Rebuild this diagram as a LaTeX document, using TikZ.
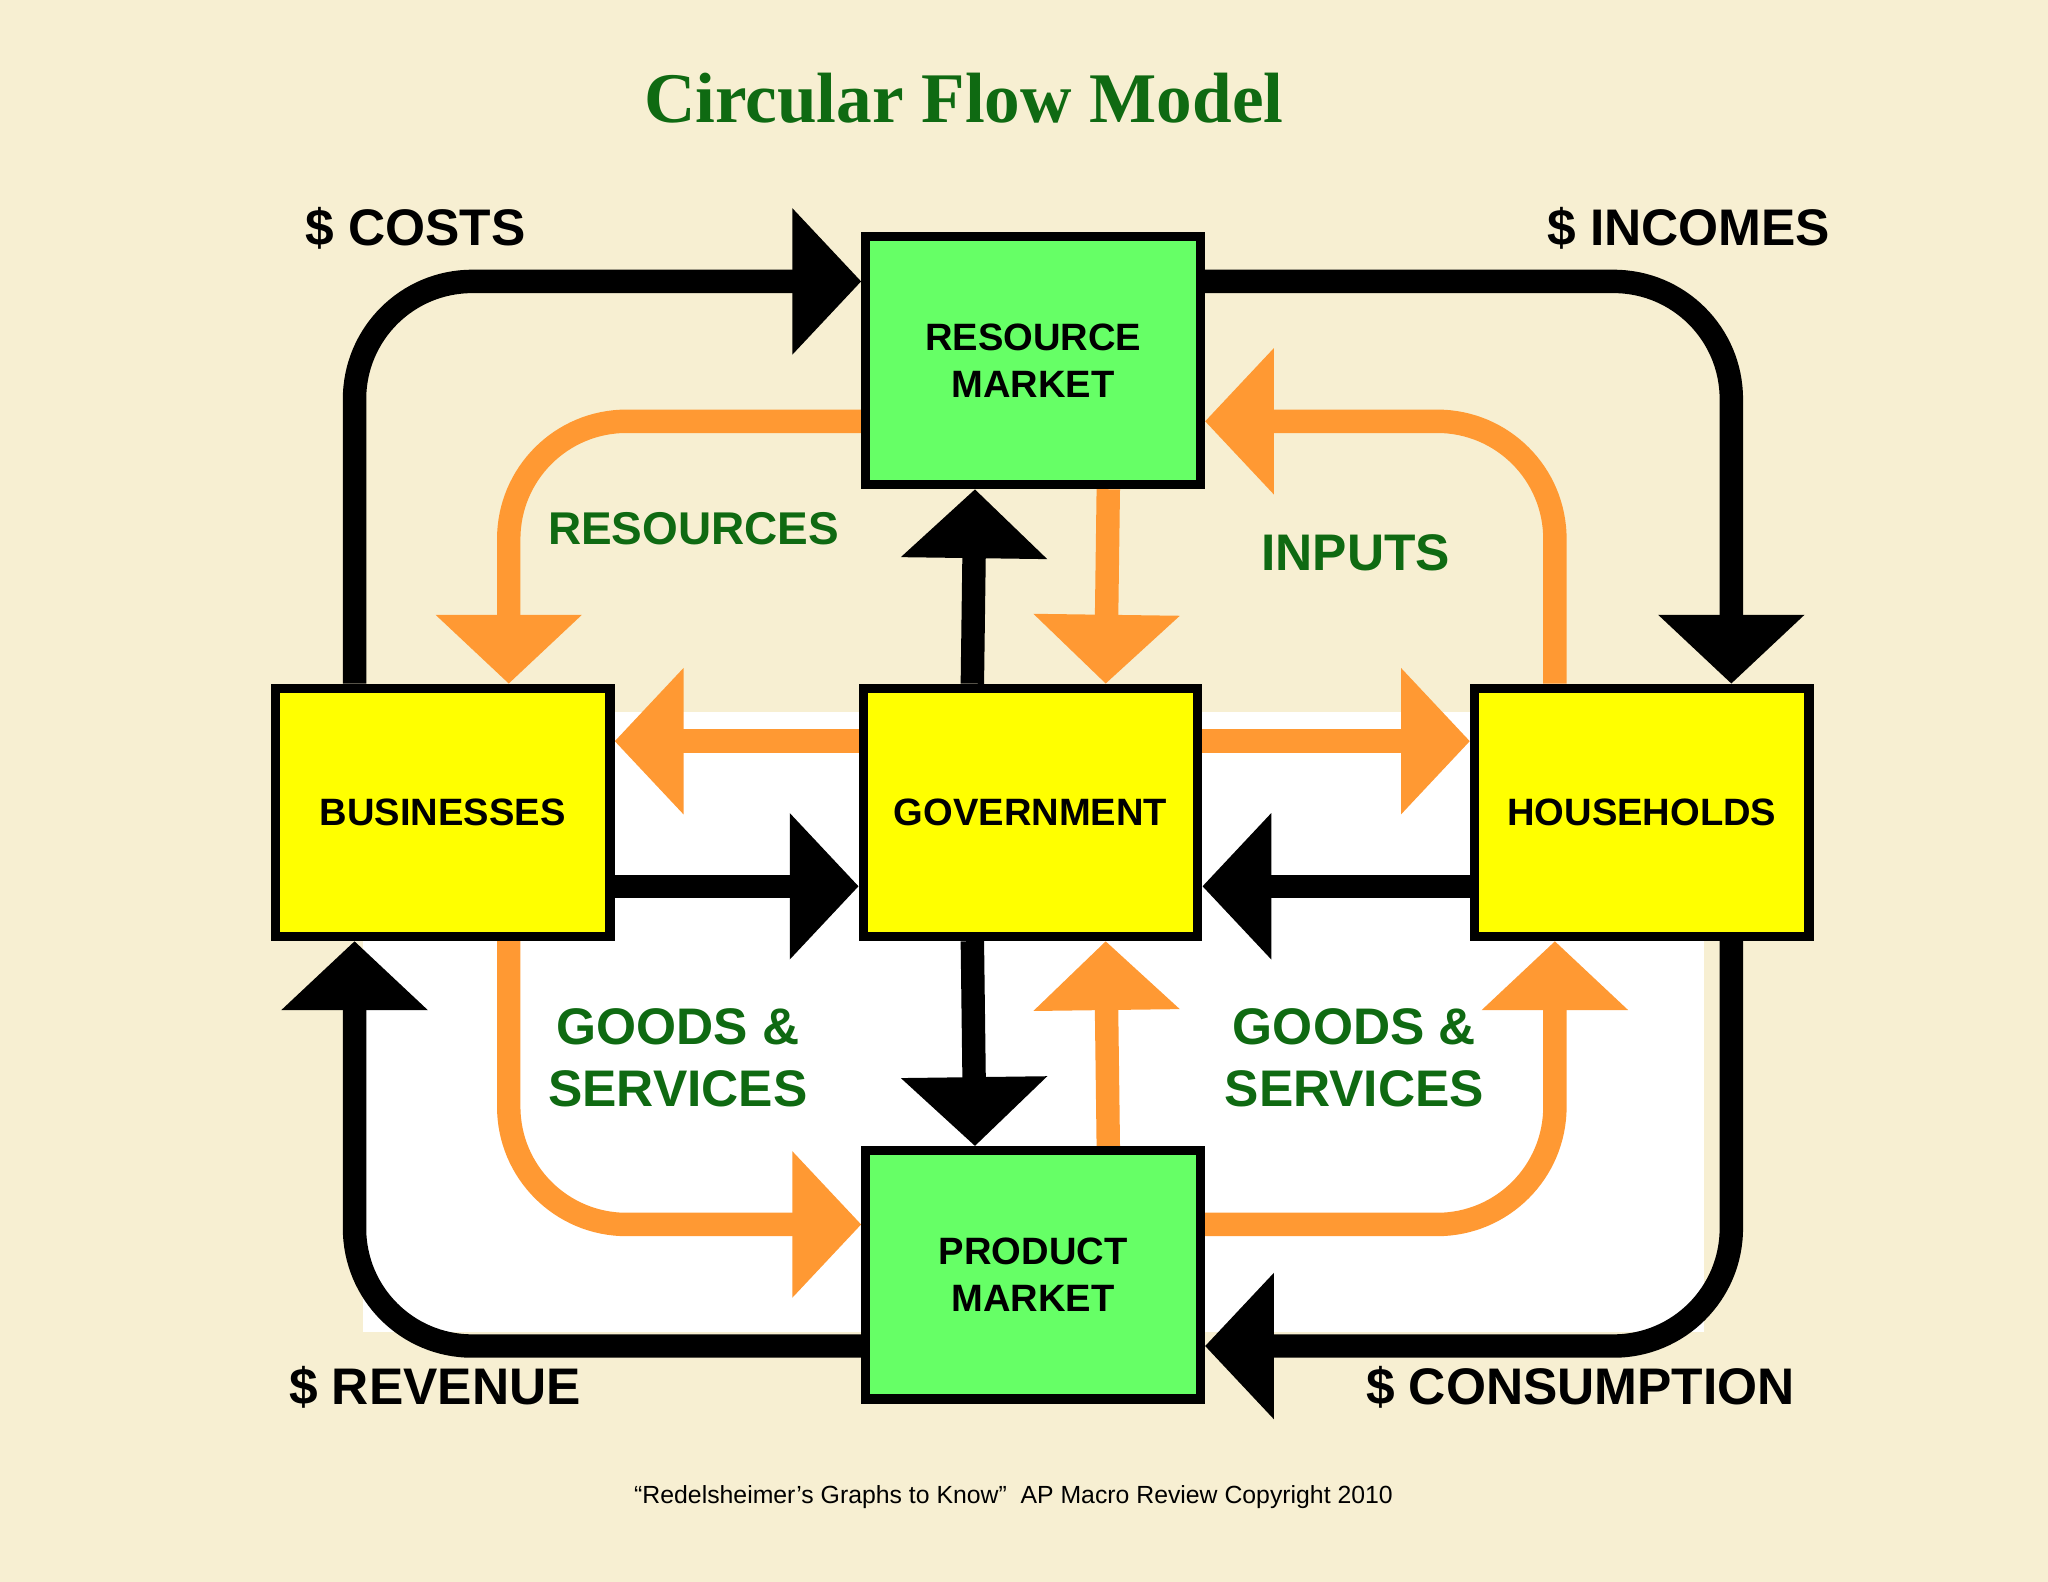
\documentclass[tikz,border=0pt]{standalone}
\usepackage{fontspec}
\setmainfont{Liberation Sans}
\newfontfamily\titlefont{Liberation Serif}
\usetikzlibrary{arrows.meta}
\pgfdeclarelayer{background}
\pgfdeclarelayer{back2}
\pgfsetlayers{back2,background,main}
\definecolor{bg}{HTML}{F7EFD2}
\definecolor{boxg}{HTML}{66FF66}
\definecolor{boxy}{HTML}{FFFF00}
\definecolor{org}{HTML}{FF9933}
\definecolor{dg}{HTML}{0F6A12}
\tikzset{
 box/.style={draw=black,line width=2pt,minimum width=2.56cm,minimum height=1.9cm,inner sep=0pt,align=center,font=\fontsize{8.3}{10.3}\selectfont\bfseries},
 bk/.style={line width=5.1pt,draw=black,rounded corners=0.9cm,-{Triangle[length=15pt,width=31pt]}},
 og/.style={line width=5.1pt,draw=org,rounded corners=0.9cm,-{Triangle[length=15pt,width=31pt]}},
 lab/.style={font=\fontsize{11.2}{13}\selectfont\bfseries},
 glab/.style={font=\fontsize{11.2}{13.6}\selectfont\bfseries,text=dg,align=center}
}
\begin{document}
\begin{tikzpicture}[x=0.01cm,y=-0.01cm]
\useasboundingbox (0,0) rectangle (1568,1211);
\node[font=\titlefont\fontsize{15.5}{18}\selectfont\bfseries,text=dg] (title) at (738,75) {Circular Flow Model};
\node[box,fill=boxg] (rm) at (791,276) {RESOURCE\\MARKET};
\node[box,fill=boxy] (bus) at (339,622) {BUSINESSES};
\node[box,fill=boxy] (gov) at (789,622) {GOVERNMENT};
\node[box,fill=boxy] (hh) at (1257,622) {HOUSEHOLDS};
\node[box,fill=boxg] (pm) at (791,976) {PRODUCT\\MARKET};
\begin{pgfonlayer}{back2}
\fill[bg] (0,0) rectangle (1568,1211);
\fill[white] (278,545) rectangle (1305,1020);
\end{pgfonlayer}
\begin{pgfonlayer}{background}
\draw[bk] ([xshift=0.64cm]bus.north west) |- ([yshift=-0.38cm]rm.north west);
\draw[bk] ([yshift=-0.38cm]rm.north east) -| ([xshift=-0.63cm]hh.north east);
\draw[bk] ([xshift=-0.63cm]hh.south east) |- ([yshift=0.44cm]pm.south east);
\draw[bk] ([yshift=0.44cm]pm.south west) -| ([xshift=0.64cm]bus.south west);
\draw[bk] ([yshift=0.42cm]bus.south east) -- ([yshift=0.42cm]gov.south west);
\draw[bk] ([yshift=0.42cm]hh.south west) -- ([yshift=0.42cm]gov.south east);
\draw[bk] ([xshift=0.87cm]gov.north west) -- ([xshift=0.87cm]rm.south west);
\draw[bk] ([xshift=0.87cm]gov.south west) -- ([xshift=0.87cm]pm.north west);
\draw[og] ([yshift=0.52cm]rm.south west) -| ([xshift=1.82cm]bus.north west);
\draw[og] ([xshift=-1.98cm]hh.north east) |- ([yshift=0.52cm]rm.south east);
\draw[og] ([xshift=-0.74cm]rm.south east) -- ([xshift=-0.74cm]gov.north east);
\draw[og] ([yshift=-0.44cm]gov.north west) -- ([yshift=-0.44cm]bus.north east);
\draw[og] ([yshift=-0.44cm]gov.north east) -- ([yshift=-0.44cm]hh.north west);
\draw[og] ([xshift=1.82cm]bus.south west) |- ([yshift=-0.60cm]pm.north west);
\draw[og] ([yshift=-0.60cm]pm.north east) -| ([xshift=-1.98cm]hh.south east);
\draw[og] ([xshift=-0.74cm]pm.north east) -- ([xshift=-0.74cm]gov.south east);
\end{pgfonlayer}
\node[lab] (costs) at (318,175) {\$ COSTS};
\node[lab] (inc) at (1293,175) {\$ INCOMES};
\node[lab] (rev) at (333,1062) {\$ REVENUE};
\node[lab] (cons) at (1210,1062) {\$ CONSUMPTION};
\node[glab,font=\fontsize{10}{12}\selectfont\bfseries] (res) at (531,405) {RESOURCES};
\node[glab] (inp) at (1038,423) {INPUTS};
\node[glab] (gs1) at (519,810) {GOODS \&\\SERVICES};
\node[glab] (gs2) at (1037,810) {GOODS \&\\SERVICES};
\node[font=\fontsize{5.4}{6.5}\selectfont] (foot) at (776,1146) {“Redelsheimer’s Graphs to Know”\ \ AP Macro Review Copyright 2010};
\end{tikzpicture}
\end{document}
